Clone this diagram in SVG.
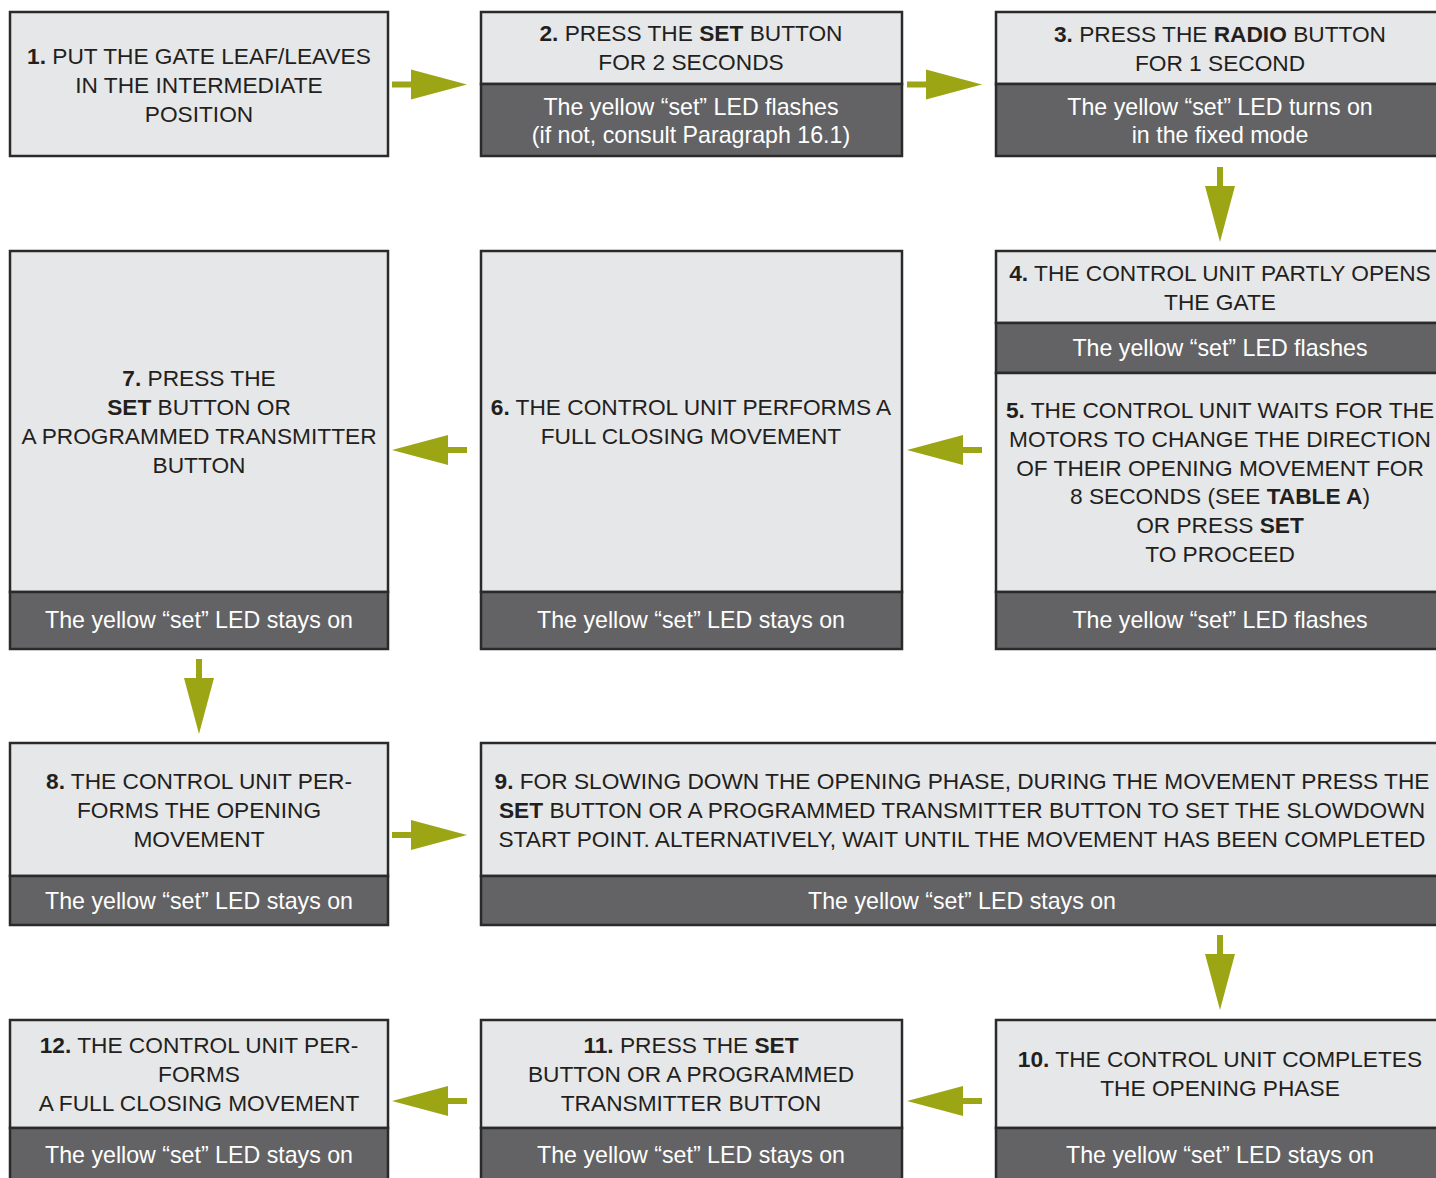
<svg xmlns="http://www.w3.org/2000/svg" xmlns:xlink="http://www.w3.org/1999/xlink" width="1436" height="1178" viewBox="0 0 1436 1178">
<style>
.lt{fill:#e6e7e9;stroke:#2a2a2a;stroke-width:2.5}
.dk{fill:#636365;stroke:#2a2a2a;stroke-width:2.5}
text{font-family:"Liberation Sans",Arial,sans-serif;font-size:22.7px;text-anchor:middle}
.t{fill:#231f20}
.w{fill:#ffffff;font-size:23.2px}
.b{font-weight:bold}
.arr{fill:#9ca615}
</style>
<defs>
<path id="ar" class="arr" d="M-75,-3 H-56 V-15 L0,0 L-56,15 V3 H-75 Z"/>
</defs>
<rect width="1436" height="1178" fill="#ffffff"/>

<g id="node1">
<rect class="lt" x="10" y="12" width="378" height="144"/>
<text class="t" x="199" y="64"><tspan class="b">1.</tspan> PUT THE GATE LEAF/LEAVES</text>
<text class="t" x="199" y="93">IN THE INTERMEDIATE</text>
<text class="t" x="199" y="122">POSITION</text>
</g>

<g id="node2">
<rect class="lt" x="481" y="12" width="421" height="72"/>
<rect class="dk" x="481" y="84" width="421" height="72"/>
<text class="t" x="691" y="41"><tspan class="b">2.</tspan> PRESS THE <tspan class="b">SET</tspan> BUTTON</text>
<text class="t" x="691" y="70">FOR 2 SECONDS</text>
<text class="w" x="691" y="115">The yellow “set” LED flashes</text>
<text class="w" x="691" y="143">(if not, consult Paragraph 16.1)</text>
</g>

<g id="node3">
<rect class="lt" x="996" y="12" width="450" height="72"/>
<rect class="dk" x="996" y="84" width="450" height="72"/>
<text class="t" x="1220" y="42"><tspan class="b">3.</tspan> PRESS THE <tspan class="b">RADIO</tspan> BUTTON</text>
<text class="t" x="1220" y="71">FOR 1 SECOND</text>
<text class="w" x="1220" y="115">The yellow “set” LED turns on</text>
<text class="w" x="1220" y="143">in the fixed mode</text>
</g>

<g id="node4">
<rect class="lt" x="996" y="251" width="450" height="72"/>
<rect class="dk" x="996" y="323" width="450" height="50"/>
<text class="t" x="1220" y="281"><tspan class="b">4.</tspan> THE CONTROL UNIT PARTLY OPENS</text>
<text class="t" x="1220" y="310">THE GATE</text>
<text class="w" x="1220" y="356">The yellow “set” LED flashes</text>
</g>

<g id="node5">
<rect class="lt" x="996" y="373" width="450" height="219"/>
<rect class="dk" x="996" y="592" width="450" height="57"/>
<text class="t" x="1220" y="418"><tspan class="b">5.</tspan> THE CONTROL UNIT WAITS FOR THE</text>
<text class="t" x="1220" y="447">MOTORS TO CHANGE THE DIRECTION</text>
<text class="t" x="1220" y="476">OF THEIR OPENING MOVEMENT FOR</text>
<text class="t" x="1220" y="504">8 SECONDS (SEE <tspan class="b">TABLE A</tspan>)</text>
<text class="t" x="1220" y="533">OR PRESS <tspan class="b">SET</tspan></text>
<text class="t" x="1220" y="562">TO PROCEED</text>
<text class="w" x="1220" y="628">The yellow “set” LED flashes</text>
</g>

<g id="node6">
<rect class="lt" x="481" y="251" width="421" height="341"/>
<rect class="dk" x="481" y="592" width="421" height="57"/>
<text class="t" x="691" y="415"><tspan class="b">6.</tspan> THE CONTROL UNIT PERFORMS A</text>
<text class="t" x="691" y="444">FULL CLOSING MOVEMENT</text>
<text class="w" x="691" y="628">The yellow “set” LED stays on</text>
</g>

<g id="node7">
<rect class="lt" x="10" y="251" width="378" height="341"/>
<rect class="dk" x="10" y="592" width="378" height="57"/>
<text class="t" x="199" y="386"><tspan class="b">7.</tspan> PRESS THE</text>
<text class="t" x="199" y="415"><tspan class="b">SET</tspan> BUTTON OR</text>
<text class="t" x="199" y="444">A PROGRAMMED TRANSMITTER</text>
<text class="t" x="199" y="473">BUTTON</text>
<text class="w" x="199" y="628">The yellow “set” LED stays on</text>
</g>

<g id="node8">
<rect class="lt" x="10" y="743" width="378" height="133"/>
<rect class="dk" x="10" y="876" width="378" height="49"/>
<text class="t" x="199" y="789"><tspan class="b">8.</tspan> THE CONTROL UNIT PER-</text>
<text class="t" x="199" y="818">FORMS THE OPENING</text>
<text class="t" x="199" y="847">MOVEMENT</text>
<text class="w" x="199" y="909">The yellow “set” LED stays on</text>
</g>

<g id="node9">
<rect class="lt" x="481" y="743" width="965" height="133"/>
<rect class="dk" x="481" y="876" width="965" height="49"/>
<text class="t" x="962" y="789"><tspan class="b">9.</tspan> FOR SLOWING DOWN THE OPENING PHASE, DURING THE MOVEMENT PRESS THE</text>
<text class="t" x="962" y="818"><tspan class="b">SET</tspan> BUTTON OR A PROGRAMMED TRANSMITTER BUTTON TO SET THE SLOWDOWN</text>
<text class="t" x="962" y="847">START POINT. ALTERNATIVELY, WAIT UNTIL THE MOVEMENT HAS BEEN COMPLETED</text>
<text class="w" x="962" y="909">The yellow “set” LED stays on</text>
</g>

<g id="node10">
<rect class="lt" x="996" y="1020" width="450" height="108"/>
<rect class="dk" x="996" y="1128" width="450" height="60"/>
<text class="t" x="1220" y="1067"><tspan class="b">10.</tspan> THE CONTROL UNIT COMPLETES</text>
<text class="t" x="1220" y="1096">THE OPENING PHASE</text>
<text class="w" x="1220" y="1163">The yellow “set” LED stays on</text>
</g>

<g id="node11">
<rect class="lt" x="481" y="1020" width="421" height="108"/>
<rect class="dk" x="481" y="1128" width="421" height="60"/>
<text class="t" x="691" y="1053"><tspan class="b">11.</tspan> PRESS THE <tspan class="b">SET</tspan></text>
<text class="t" x="691" y="1082">BUTTON OR A PROGRAMMED</text>
<text class="t" x="691" y="1111">TRANSMITTER BUTTON</text>
<text class="w" x="691" y="1163">The yellow “set” LED stays on</text>
</g>

<g id="node12">
<rect class="lt" x="10" y="1020" width="378" height="108"/>
<rect class="dk" x="10" y="1128" width="378" height="60"/>
<text class="t" x="199" y="1053"><tspan class="b">12.</tspan> THE CONTROL UNIT PER-</text>
<text class="t" x="199" y="1082">FORMS</text>
<text class="t" x="199" y="1111">A FULL CLOSING MOVEMENT</text>
<text class="w" x="199" y="1163">The yellow “set” LED stays on</text>
</g>

<g id="connectors">
<use xlink:href="#ar" transform="translate(467,84.5)"/>
<use xlink:href="#ar" transform="translate(982,84.5)"/>
<use xlink:href="#ar" transform="translate(1220,242) rotate(90)"/>
<use xlink:href="#ar" transform="translate(907,450) rotate(180)"/>
<use xlink:href="#ar" transform="translate(392,450) rotate(180)"/>
<use xlink:href="#ar" transform="translate(199,734) rotate(90)"/>
<use xlink:href="#ar" transform="translate(467,835)"/>
<use xlink:href="#ar" transform="translate(1220,1010) rotate(90)"/>
<use xlink:href="#ar" transform="translate(907,1101) rotate(180)"/>
<use xlink:href="#ar" transform="translate(392,1101) rotate(180)"/>
</g>
</svg>
